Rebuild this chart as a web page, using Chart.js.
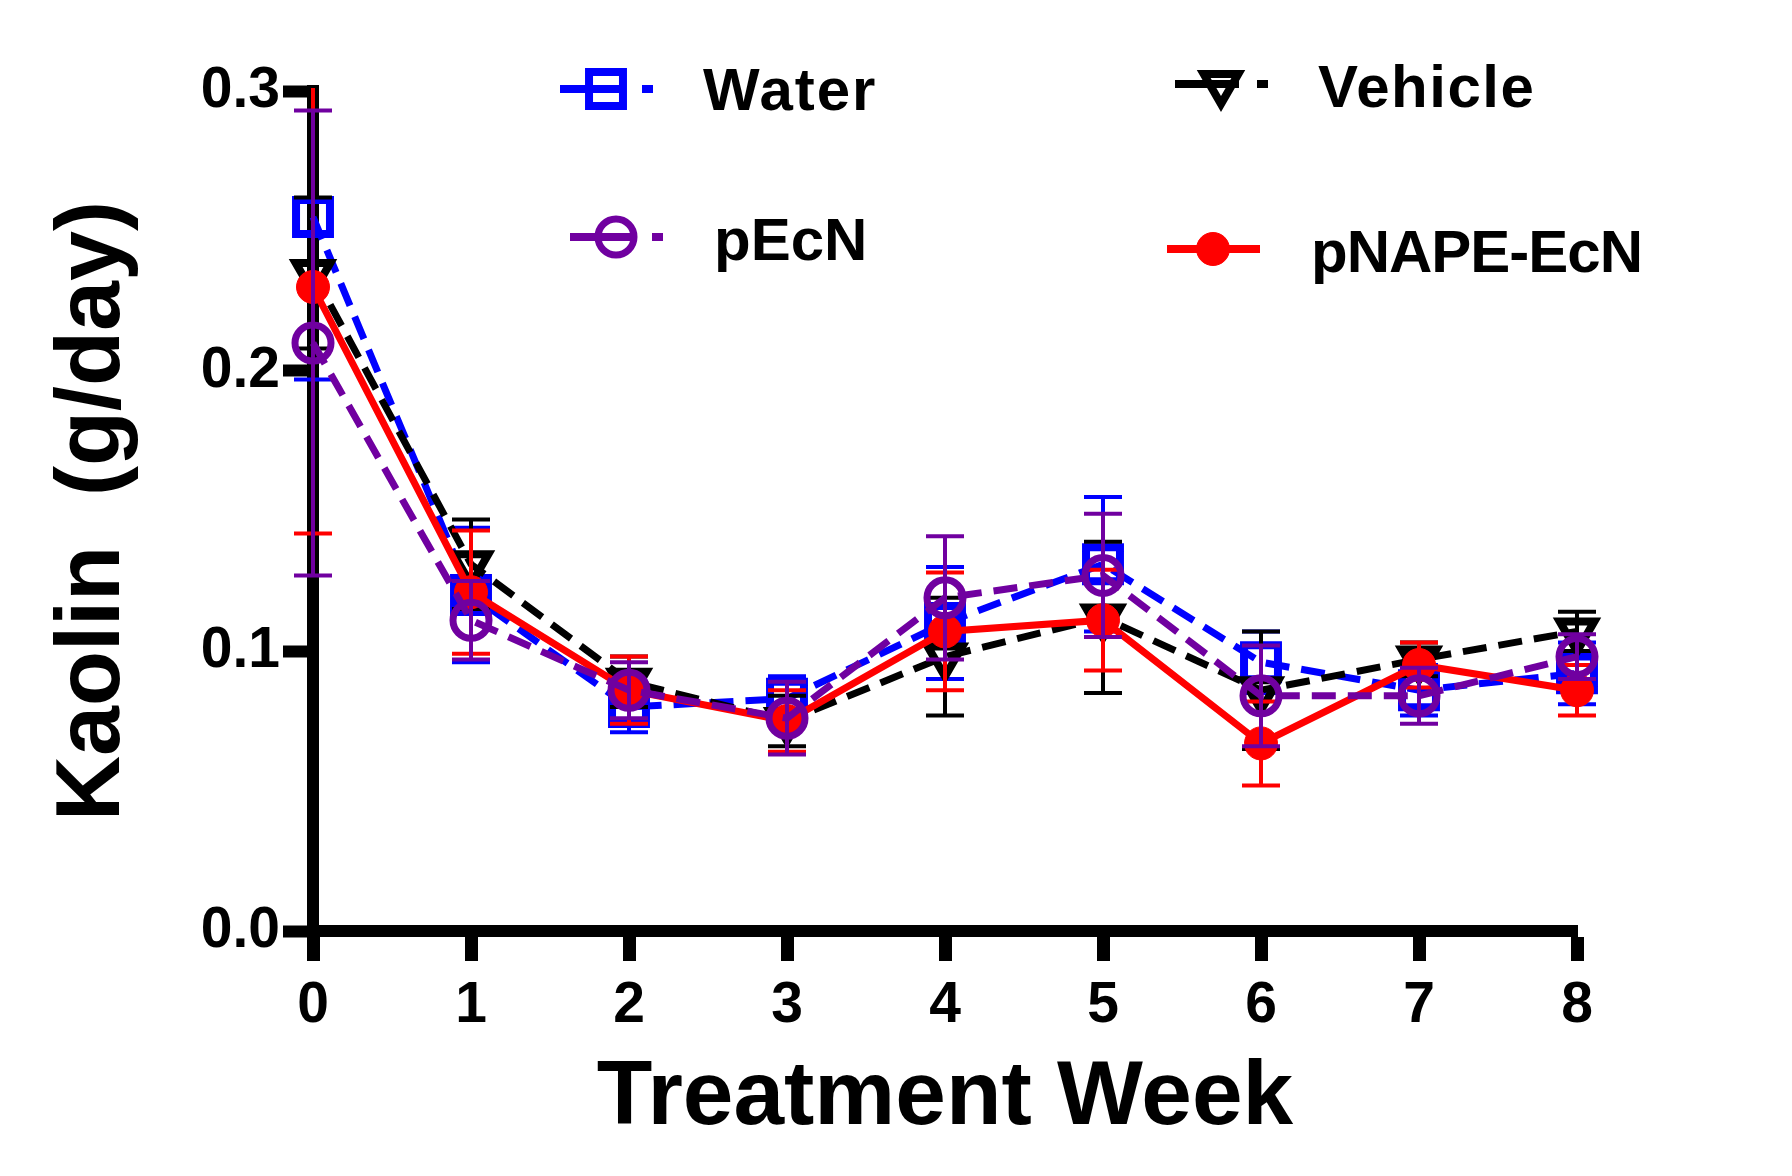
<!DOCTYPE html>
<html>
<head>
<meta charset="utf-8">
<title>Kaolin intake by treatment week</title>
<script src="https://cdn.jsdelivr.net/npm/chart.js@4.4.1/dist/chart.umd.min.js"></script>
<style>
  html, body { margin: 0; padding: 0; background: #fff; }
  #wrap { width: 1792px; height: 1176px; }
</style>
</head>
<body>
<div id="wrap"><canvas id="chart" width="1792" height="1176"></canvas></div>
<script>
// values (mean and SEM, g/day)
const weeks = [0, 1, 2, 3, 4, 5, 6, 7, 8];
const seriesNames = ['Water', 'Vehicle', 'pEcN', 'pNAPE-EcN'];

const waterMean   = [0.255, 0.120, 0.080, 0.083, 0.110, 0.131, 0.096, 0.086, 0.092];
const waterErr    = [0.058, 0.024, 0.009, 0.008, 0.020, 0.024, 0.011, 0.009, 0.011];
const vehicleMean = [0.235, 0.131, 0.089, 0.075, 0.098, 0.112, 0.086, 0.097, 0.107];
const vehicleErr  = [0.027, 0.016, 0.009, 0.009, 0.021, 0.027, 0.021, 0.006, 0.007];
const pecnMean    = [0.210, 0.111, 0.086, 0.076, 0.119, 0.127, 0.084, 0.084, 0.098];
const pecnErr     = [0.083, 0.014, 0.010, 0.013, 0.022, 0.022, 0.018, 0.010, 0.008];
const pnapeMean   = [0.230, 0.121, 0.086, 0.075, 0.107, 0.111, 0.067, 0.095, 0.086];
const pnapeErr    = [0.088, 0.022, 0.012, 0.011, 0.021, 0.018, 0.015, 0.008, 0.009];

const yTicks = [0, 0.1, 0.2, 0.3];

const FONT = '"Liberation Sans", Arial, Helvetica, sans-serif';
const PURPLE = '#7000A0';

function points(vals) {
  return weeks.map((w, i) => ({ x: w, y: vals[i] }));
}

// error bars drawn right before each dataset so its markers sit on top
const errorBars = {
  id: 'errorBars',
  beforeDatasetDraw(chart, args) {
    const ds = chart.data.datasets[args.index];
    if (!ds.errors) return;
    const { ctx, chartArea, scales } = chart;
    ctx.save();
    ctx.beginPath();
    ctx.rect(0, chartArea.top - 3, chart.width, chartArea.bottom - chartArea.top + 40);
    ctx.clip();
    ctx.strokeStyle = ds.borderColor;
    ctx.lineWidth = 4;
    ctx.setLineDash([]);
    args.meta.data.forEach((pt, i) => {
      const v = ds.data[i].y, e = ds.errors[i];
      const top = scales.y.getPixelForValue(v + e);
      const bot = scales.y.getPixelForValue(v - e);
      ctx.beginPath();
      ctx.moveTo(pt.x, top); ctx.lineTo(pt.x, bot);
      ctx.moveTo(pt.x - 19, top); ctx.lineTo(pt.x + 19, top);
      ctx.moveTo(pt.x - 19, bot); ctx.lineTo(pt.x + 19, bot);
      ctx.stroke();
    });
    ctx.restore();
  }
};

// two-column legend inside the plot, as in the original figure
const legendSpots = [
  { x0: 560,  x1: 653,  mx: 606,  y: 89,  tx: 703,  ty: 110, sp: 2 },
  { x0: 1175, x1: 1268, mx: 1221, y: 84,  tx: 1318, ty: 107, sp: 1.5 },
  { x0: 570,  x1: 663,  mx: 616,  y: 237, tx: 714,  ty: 260, sp: 0 },
  { x0: 1167, x1: 1260, mx: 1213, y: 249, tx: 1311, ty: 272, sp: -1 }
];

const insideLegend = {
  id: 'insideLegend',
  afterDraw(chart) {
    const ctx = chart.ctx;
    chart.data.datasets.forEach((ds, i) => {
      const s = legendSpots[i];
      ctx.save();
      ctx.strokeStyle = ds.borderColor;
      ctx.lineWidth = 8;
      ctx.lineCap = 'butt';
      ctx.beginPath();
      if (ds.borderDash && ds.borderDash.length) {
        ctx.moveTo(s.x0, s.y); ctx.lineTo(s.mx + 18, s.y);
        ctx.moveTo(s.x1 - 11, s.y); ctx.lineTo(s.x1, s.y);
      } else {
        ctx.moveTo(s.x0, s.y); ctx.lineTo(s.x1, s.y);
      }
      ctx.stroke();
      ctx.fillStyle = ds.pointBackgroundColor;
      ctx.lineWidth = ds.pointBorderWidth;
      Chart.helpers.drawPoint(ctx, {
        pointStyle: ds.pointStyle,
        rotation: ds.pointRotation || 0,
        radius: ds.pointRadius,
        borderWidth: ds.pointBorderWidth
      }, s.mx, s.y);
      ctx.fillStyle = '#000';
      ctx.font = 'bold 60px ' + FONT;
      ctx.letterSpacing = s.sp + 'px';
      ctx.textBaseline = 'alphabetic';
      ctx.textAlign = 'left';
      ctx.fillText(ds.label, s.tx, s.ty);
      ctx.restore();
    });
  }
};

const ctx = document.getElementById('chart').getContext('2d');
const chart = new Chart(ctx, {
  type: 'line',
  data: {
    datasets: [
      {
        label: seriesNames[0], data: points(waterMean), errors: waterErr,
        borderColor: '#0000FF', borderWidth: 7, borderDash: [24, 12],
        pointStyle: 'rect', pointRadius: 24, pointBorderWidth: 8,
        pointBorderColor: '#0000FF', pointBackgroundColor: 'rgba(0,0,0,0)',
        order: 4
      },
      {
        label: seriesNames[1], data: points(vehicleMean), errors: vehicleErr,
        borderColor: '#000000', borderWidth: 7, borderDash: [24, 12],
        pointStyle: 'triangle', pointRotation: 180, pointRadius: 20, pointBorderWidth: 8,
        pointBorderColor: '#000000', pointBackgroundColor: 'rgba(0,0,0,0)',
        order: 3
      },
      {
        label: seriesNames[2], data: points(pecnMean), errors: pecnErr,
        borderColor: PURPLE, borderWidth: 7, borderDash: [24, 12],
        pointStyle: 'circle', pointRadius: 18, pointBorderWidth: 7,
        pointBorderColor: PURPLE, pointBackgroundColor: 'rgba(0,0,0,0)',
        order: 1
      },
      {
        label: seriesNames[3], data: points(pnapeMean), errors: pnapeErr,
        borderColor: '#FF0000', borderWidth: 7, borderDash: [],
        pointStyle: 'circle', pointRadius: 16.5, pointBorderWidth: 1,
        pointBorderColor: '#FF0000', pointBackgroundColor: '#FF0000',
        order: 2
      }
    ]
  },
  options: {
    responsive: false,
    animation: false,
    devicePixelRatio: 1,
    clip: false,
    layout: { padding: { top: 91, right: 215, bottom: 0, left: 0 } },
    plugins: { legend: { display: false }, tooltip: { enabled: false } },
    elements: { line: { tension: 0, fill: false } },
    scales: {
      x: {
        type: 'linear', min: 0, max: 8,
        afterFit(s) { s.height = 245; },
        ticks: {
          stepSize: 1, padding: 11, color: '#000',
          font: { family: FONT, size: 57, weight: 'bold' }
        },
        grid: { drawOnChartArea: false, drawTicks: true, tickLength: 30, tickWidth: 13, tickColor: '#000' },
        border: { display: true, width: 12, color: '#000' },
        title: {
          display: true, text: 'Treatment Week', color: '#000',
          font: { family: FONT, size: 91, weight: 'bold' },
          padding: { top: 0, bottom: 22 }
        }
      },
      y: {
        type: 'linear', min: 0, max: 0.3,
        afterFit(s) { s.width = 313; },
        afterBuildTicks(s) { s.ticks = yTicks.map(v => ({ value: v })); },
        ticks: {
          padding: 3, color: '#000',
          font: { family: FONT, size: 57, weight: 'bold' },
          callback: v => Number(v).toFixed(1)
        },
        grid: { drawOnChartArea: false, drawTicks: true, tickLength: 30, tickWidth: 12, tickColor: '#000' },
        border: { display: true, width: 12, color: '#000' },
        title: {
          display: true, text: 'Kaolin  (g/day)', color: '#000',
          font: { family: FONT, size: 90, weight: 'bold' },
          padding: { top: 40, bottom: 0 }
        }
      }
    }
  },
  plugins: [errorBars, insideLegend]
});
</script>
</body>
</html>
